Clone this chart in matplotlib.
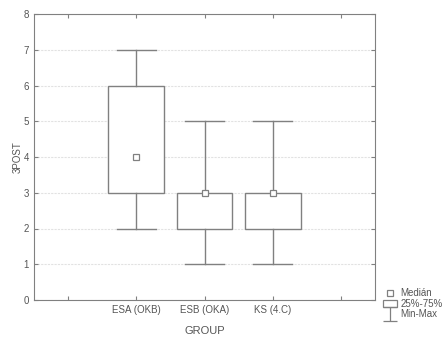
import matplotlib
matplotlib.use("Agg")
import matplotlib.pyplot as plt
from matplotlib.lines import Line2D
from matplotlib.patches import Patch
from matplotlib.path import Path

plt.rcParams['font.family'] = ['Liberation Sans', 'DejaVu Sans']

groups = ["ESA (OKB)", "ESB (OKA)", "KS (4.C)"]
medians = [4, 3, 3]
q1 = [3, 2, 2]
q3 = [6, 3, 3]
mins = [2, 1, 1]
maxs = [7, 5, 5]

line_col = "#808080"
text_col = "#555555"

fig = plt.figure(figsize=(4.47, 3.41), dpi=100)
ax = fig.add_axes([34 / 447, 41 / 341, 341 / 447, 286 / 341])

stats = []
for g, m, a, b, lo, hi in zip(groups, medians, q1, q3, mins, maxs):
    stats.append(dict(label=g, med=m, q1=a, q3=b, whislo=lo, whishi=hi, fliers=[]))

pos = [1, 2, 3]
ax.bxp(stats, positions=pos, widths=0.82, patch_artist=True, showfliers=False,
       boxprops=dict(facecolor="white", edgecolor=line_col, linewidth=1.0),
       whiskerprops=dict(color=line_col, linewidth=1.0),
       capprops=dict(color=line_col, linewidth=1.0),
       medianprops=dict(visible=False), capwidths=0.57, zorder=3)
ax.plot(pos, medians, linestyle="none", marker="s", markersize=4,
        markerfacecolor="white", markeredgecolor=line_col, markeredgewidth=0.9, zorder=4)

ax.set_xlim(-0.5, 4.5)
ax.set_ylim(0, 8)
ax.set_xticks([0, 1, 2, 3, 4])
ax.set_xticklabels([""] + groups + [""])
ax.set_yticks(range(9))
ax.yaxis.grid(True, color="#e2e2e2", linestyle=(0, (2, 1)), linewidth=0.8, zorder=0)
ax.set_axisbelow(True)
for s in ax.spines.values():
    s.set_color(line_col)
ax.tick_params(colors=line_col, labelcolor=text_col, labelsize=7, length=3,
               direction="in", top=True, right=True)
ax.set_xlabel("GROUP", fontsize=8, color=text_col, labelpad=8)
ax.set_ylabel("3POST", fontsize=7, color=text_col, labelpad=0.5)

beam = Path([(-1, 1), (1, 1), (0, 1), (0, -1), (-1, -1), (1, -1)],
            [Path.MOVETO, Path.LINETO, Path.MOVETO, Path.LINETO, Path.MOVETO, Path.LINETO])
handles = [
    Line2D([], [], linestyle="none", marker="s", markersize=4,
           markerfacecolor="white", markeredgecolor=line_col, markeredgewidth=0.9),
    Patch(facecolor="white", edgecolor=line_col, linewidth=0.9),
    Line2D([], [], linestyle="none", marker=beam, markersize=10,
           markerfacecolor="none", markeredgecolor=line_col, markeredgewidth=0.9),
]
fig.legend(handles, ["Medián", "25%-75%", "Min-Max"], loc="lower left",
           bbox_to_anchor=(376 / 447, 15 / 341), frameon=False, fontsize=7,
           labelcolor=text_col, handlelength=1.5, handletextpad=0.3,
           labelspacing=0.05, borderpad=0.2)

fig.savefig("out.png", dpi=100)
